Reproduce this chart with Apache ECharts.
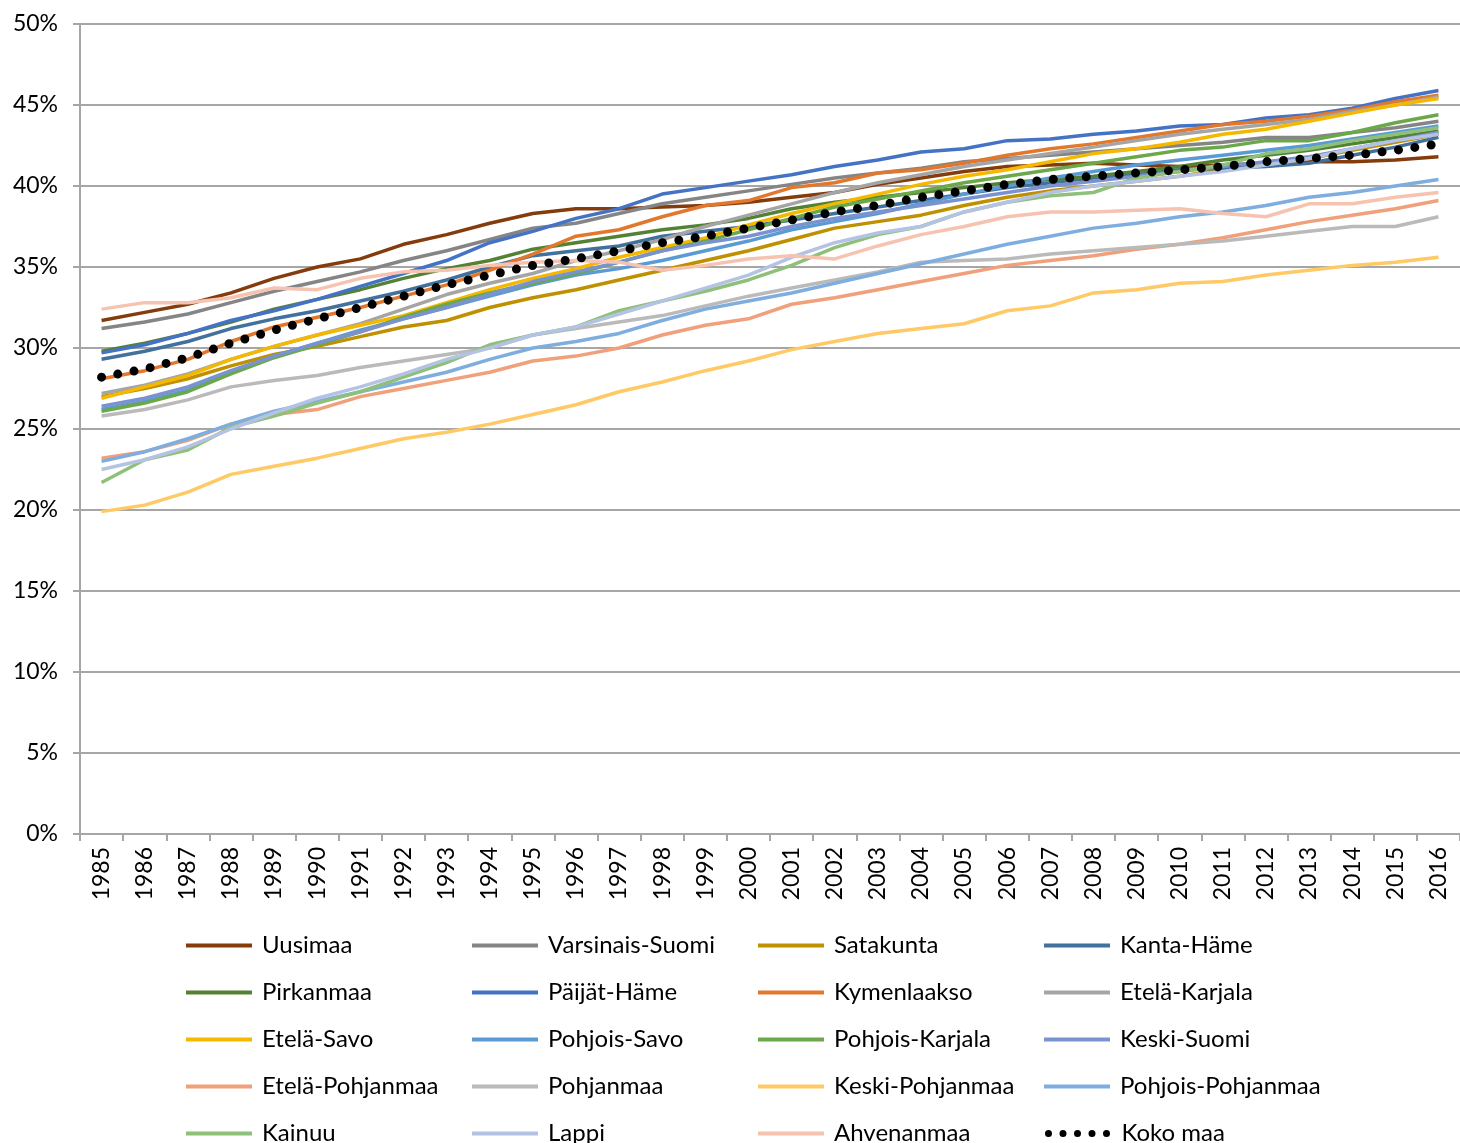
<!DOCTYPE html>
<html>
<head>
<meta charset="utf-8">
<script src="https://cdn.jsdelivr.net/npm/echarts@6/dist/echarts.min.js"></script>
<style>
  html, body { margin: 0; padding: 0; background: #fff; }
  #main { width: 1460px; height: 1143px; }
</style>
</head>
<body>
<div id="main"></div>
<script>
// vuodet
const years = ['1985', '1986', '1987', '1988', '1989', '1990', '1991', '1992', '1993', '1994',
    '1995', '1996', '1997', '1998', '1999', '2000', '2001', '2002', '2003', '2004',
    '2005', '2006', '2007', '2008', '2009', '2010', '2011', '2012', '2013', '2014', '2015', '2016'];

// osuudet prosentteina, luettu kuvasta
const uusimaa = [31.7, 32.2, 32.7, 33.4, 34.3, 35.0, 35.5, 36.4, 37.0, 37.7, 38.3, 38.6, 38.6, 38.7, 38.8, 39.0, 39.3, 39.6, 40.1, 40.5, 40.9, 41.2, 41.3, 41.4, 41.3, 41.2, 41.3, 41.4, 41.5, 41.5, 41.6, 41.8];
const varsinaisSuomi = [31.2, 31.6, 32.1, 32.8, 33.5, 34.1, 34.7, 35.4, 36.0, 36.7, 37.4, 37.7, 38.3, 38.9, 39.3, 39.7, 40.1, 40.5, 40.8, 41.1, 41.5, 41.7, 41.9, 42.1, 42.3, 42.5, 42.7, 43.0, 43.0, 43.3, 43.6, 44.0];
const satakunta = [27.0, 27.5, 28.1, 28.9, 29.6, 30.1, 30.7, 31.3, 31.7, 32.5, 33.1, 33.6, 34.2, 34.8, 35.4, 36.0, 36.7, 37.4, 37.8, 38.2, 38.8, 39.3, 39.7, 40.0, 40.3, 40.6, 41.0, 41.3, 41.7, 42.2, 42.7, 43.2];
const kantaHame = [29.3, 29.8, 30.4, 31.2, 31.8, 32.3, 32.9, 33.5, 34.2, 35.0, 35.7, 36.0, 36.3, 36.9, 37.2, 37.5, 37.9, 38.3, 38.7, 39.1, 39.5, 39.9, 40.2, 40.5, 40.7, 41.0, 41.1, 41.2, 41.4, 41.9, 42.4, 43.0];
const pirkanmaa = [29.8, 30.3, 30.9, 31.6, 32.4, 33.0, 33.6, 34.3, 34.9, 35.4, 36.1, 36.5, 36.9, 37.3, 37.6, 38.0, 38.6, 39.0, 39.3, 39.6, 39.9, 40.2, 40.4, 40.6, 40.9, 41.2, 41.6, 41.9, 42.2, 42.6, 43.0, 43.4];
const paijatHame = [29.7, 30.2, 30.9, 31.7, 32.3, 33.0, 33.8, 34.6, 35.4, 36.5, 37.2, 38.0, 38.6, 39.5, 39.9, 40.3, 40.7, 41.2, 41.6, 42.1, 42.3, 42.8, 42.9, 43.2, 43.4, 43.7, 43.8, 44.2, 44.4, 44.8, 45.4, 45.9];
const kymenlaakso = [28.1, 28.6, 29.3, 30.4, 31.3, 31.9, 32.5, 33.2, 33.9, 34.8, 35.8, 36.9, 37.3, 38.1, 38.8, 39.1, 39.9, 40.2, 40.8, 41.0, 41.4, 41.9, 42.3, 42.6, 43.0, 43.4, 43.8, 44.0, 44.3, 44.7, 45.2, 45.6];
const etelaKarjala = [27.2, 27.7, 28.4, 29.3, 30.1, 30.8, 31.5, 32.4, 33.3, 34.0, 34.6, 35.4, 36.0, 36.7, 37.5, 38.2, 38.9, 39.6, 40.2, 40.7, 41.2, 41.6, 42.0, 42.4, 42.8, 43.2, 43.5, 43.8, 44.1, 44.6, 45.0, 45.5];
const etelaSavo = [26.9, 27.6, 28.3, 29.3, 30.1, 30.8, 31.4, 32.0, 32.8, 33.6, 34.3, 34.9, 35.6, 36.2, 36.8, 37.6, 38.3, 38.9, 39.5, 40.1, 40.6, 41.0, 41.5, 42.0, 42.3, 42.7, 43.2, 43.5, 44.0, 44.5, 45.0, 45.4];
const pohjoisSavo = [26.2, 26.7, 27.4, 28.5, 29.5, 30.3, 31.1, 31.8, 32.5, 33.2, 33.9, 34.5, 34.9, 35.4, 36.0, 36.6, 37.3, 37.8, 38.3, 38.9, 39.5, 40.0, 40.5, 40.9, 41.3, 41.6, 41.9, 42.2, 42.5, 42.9, 43.3, 43.7];
const pohjoisKarjala = [26.1, 26.6, 27.3, 28.4, 29.4, 30.2, 31.0, 31.9, 32.7, 33.4, 34.0, 34.6, 35.3, 36.0, 36.6, 37.3, 38.0, 38.7, 39.2, 39.7, 40.2, 40.6, 41.0, 41.4, 41.8, 42.2, 42.4, 42.8, 42.8, 43.3, 43.9, 44.4];
const keskiSuomi = [26.4, 26.9, 27.6, 28.6, 29.5, 30.3, 31.0, 31.8, 32.5, 33.3, 34.1, 34.7, 35.3, 36.0, 36.5, 36.9, 37.5, 38.0, 38.4, 38.8, 39.2, 39.6, 40.0, 40.3, 40.6, 40.9, 41.2, 41.5, 41.8, 42.3, 42.8, 43.3];
const etelaPohjanmaa = [23.2, 23.6, 24.3, 25.3, 25.9, 26.2, 27.0, 27.5, 28.0, 28.5, 29.2, 29.5, 30.0, 30.8, 31.4, 31.8, 32.7, 33.1, 33.6, 34.1, 34.6, 35.1, 35.4, 35.7, 36.1, 36.4, 36.8, 37.3, 37.8, 38.2, 38.6, 39.1];
const pohjanmaa = [25.8, 26.2, 26.8, 27.6, 28.0, 28.3, 28.8, 29.2, 29.6, 30.0, 30.8, 31.2, 31.6, 32.0, 32.6, 33.2, 33.7, 34.2, 34.7, 35.3, 35.4, 35.5, 35.8, 36.0, 36.2, 36.4, 36.6, 36.9, 37.2, 37.5, 37.5, 38.1];
const keskiPohjanmaa = [19.9, 20.3, 21.1, 22.2, 22.7, 23.2, 23.8, 24.4, 24.8, 25.3, 25.9, 26.5, 27.3, 27.9, 28.6, 29.2, 29.9, 30.4, 30.9, 31.2, 31.5, 32.3, 32.6, 33.4, 33.6, 34.0, 34.1, 34.5, 34.8, 35.1, 35.3, 35.6];
const pohjoisPohjanmaa = [23.0, 23.6, 24.4, 25.3, 26.1, 26.7, 27.3, 27.9, 28.5, 29.3, 30.0, 30.4, 30.9, 31.7, 32.4, 32.9, 33.4, 34.0, 34.6, 35.2, 35.8, 36.4, 36.9, 37.4, 37.7, 38.1, 38.4, 38.8, 39.3, 39.6, 40.0, 40.4];
const kainuu = [21.7, 23.1, 23.7, 25.1, 25.8, 26.6, 27.3, 28.2, 29.1, 30.2, 30.8, 31.3, 32.3, 32.9, 33.5, 34.2, 35.1, 36.2, 37.0, 37.5, 38.4, 39.0, 39.4, 39.6, 40.5, 40.9, 41.3, 42.0, 42.3, 42.8, 43.2, 43.6];
const lappi = [22.5, 23.1, 23.9, 25.0, 26.0, 26.9, 27.6, 28.4, 29.3, 30.0, 30.8, 31.3, 32.1, 32.9, 33.7, 34.5, 35.6, 36.5, 37.1, 37.5, 38.4, 39.0, 39.6, 40.0, 40.3, 40.6, 40.9, 41.3, 41.7, 42.3, 42.8, 43.2];
const ahvenanmaa = [32.4, 32.8, 32.8, 33.1, 33.7, 33.6, 34.3, 34.7, 34.8, 35.1, 35.3, 35.4, 35.3, 34.8, 35.1, 35.5, 35.7, 35.5, 36.3, 37.0, 37.5, 38.1, 38.4, 38.4, 38.5, 38.6, 38.3, 38.1, 38.9, 38.9, 39.3, 39.6];
const kokoMaa = [28.2, 28.7, 29.4, 30.3, 31.1, 31.8, 32.5, 33.2, 33.9, 34.5, 35.1, 35.5, 36.0, 36.5, 36.9, 37.4, 37.9, 38.4, 38.8, 39.3, 39.7, 40.1, 40.4, 40.6, 40.8, 41.0, 41.2, 41.5, 41.7, 41.9, 42.2, 42.6];

const regions = [
    ['Uusimaa', uusimaa, '#843C0C'],
    ['Varsinais-Suomi', varsinaisSuomi, '#858585'],
    ['Satakunta', satakunta, '#BF9000'],
    ['Kanta-Häme', kantaHame, '#41719C'],
    ['Pirkanmaa', pirkanmaa, '#548235'],
    ['Päijät-Häme', paijatHame, '#4472C4'],
    ['Kymenlaakso', kymenlaakso, '#E2782E'],
    ['Etelä-Karjala', etelaKarjala, '#A5A5A5'],
    ['Etelä-Savo', etelaSavo, '#F5B800'],
    ['Pohjois-Savo', pohjoisSavo, '#5B9BD5'],
    ['Pohjois-Karjala', pohjoisKarjala, '#6AA84A'],
    ['Keski-Suomi', keskiSuomi, '#7A93D0'],
    ['Etelä-Pohjanmaa', etelaPohjanmaa, '#F0A07A'],
    ['Pohjanmaa', pohjanmaa, '#BABABA'],
    ['Keski-Pohjanmaa', keskiPohjanmaa, '#FFC966'],
    ['Pohjois-Pohjanmaa', pohjoisPohjanmaa, '#7EAEDF'],
    ['Kainuu', kainuu, '#8FC07A'],
    ['Lappi', lappi, '#B4C3E4'],
    ['Ahvenanmaa', ahvenanmaa, '#F6C3B0']
];

let myChart = echarts.init(document.getElementById('main'), null, { renderer: 'canvas' });

let series = regions.map(function (r) {
    return {
        name: r[0],
        type: 'line',
        data: r[1],
        symbol: 'none',
        color: r[2],
        lineStyle: { color: r[2], width: 3.5 },
        emphasis: { disabled: true }
    };
});

// koko maa pisteviivana
series.push({
    name: 'Koko maa',
    type: 'line',
    data: kokoMaa,
    symbol: 'none',
    color: '#000',
    lineStyle: { color: '#000', width: 9, type: [0, 16.5], cap: 'round' },
    emphasis: { disabled: true },
    z: 5
});

let legendData = regions.map(function (r) {
    return { name: r[0], lineStyle: { width: 4, color: r[2] } };
});
legendData.push({ name: 'Koko maa', lineStyle: { width: 7, color: '#000', type: [0, 14.5], cap: 'round', dashOffset: -3 } });

let option = {
    animation: false,
    textStyle: { fontFamily: 'Lato' },
    grid: { left: 80, right: 0, top: 24, bottom: 309 },
    xAxis: {
        type: 'category',
        data: years,
        axisLine: { lineStyle: { color: '#a6a6a6', width: 2 } },
        axisTick: { show: true, length: 7, lineStyle: { color: '#a6a6a6', width: 2 } },
        axisLabel: { rotate: 90, color: '#000', fontSize: 23, margin: 13, fontFamily: 'Lato' }
    },
    yAxis: {
        type: 'value',
        min: 0,
        max: 50,
        interval: 5,
        axisLine: { show: true, lineStyle: { color: '#a6a6a6', width: 2 } },
        axisTick: { show: true, length: 7, lineStyle: { color: '#a6a6a6', width: 2 } },
        splitLine: { lineStyle: { color: '#a6a6a6', width: 2 } },
        axisLabel: { formatter: '{value}%', color: '#000', fontSize: 23, margin: 22, fontFamily: 'Lato' }
    },
    legend: {
        left: 179,
        top: 917,
        width: 1170,
        itemWidth: 66,
        itemHeight: 14,
        itemGap: 0,
        selectedMode: false,
        itemStyle: { opacity: 0 },
        textStyle: { fontSize: 24, color: '#000', width: 208, lineHeight: 47, padding: [0, 0, 0, 5], fontFamily: 'Lato' },
        data: legendData
    },
    series: series
};

myChart.setOption(option);
</script>
</body>
</html>
